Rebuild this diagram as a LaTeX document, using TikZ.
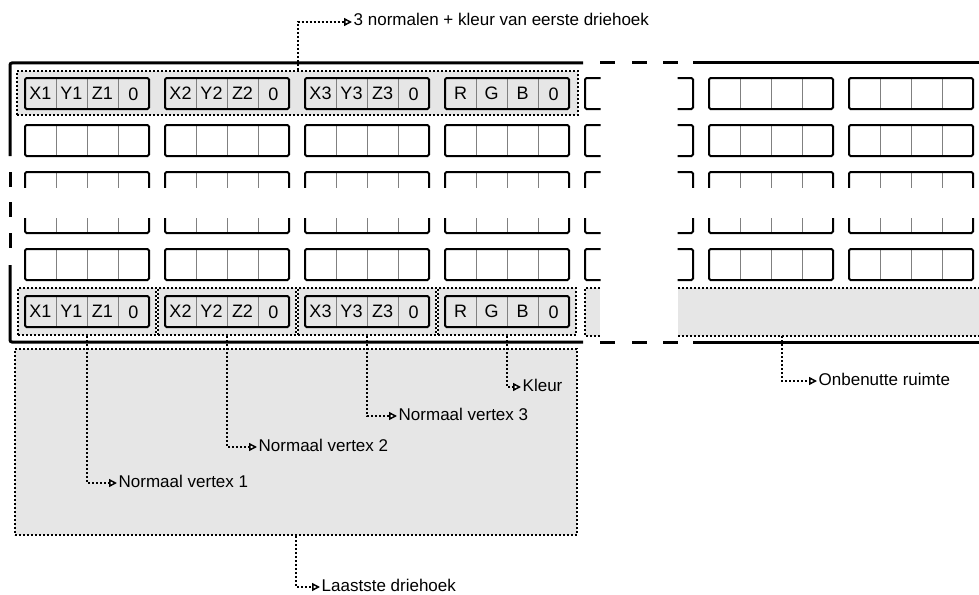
\documentclass[tikz,border=0pt]{standalone}
\usepackage{fontspec}
\setmainfont{Liberation Sans}
\usetikzlibrary{arrows.meta}
\definecolor{lightg}{RGB}{230,230,230}
\definecolor{divg}{RGB}{128,128,128}
\newcommand\myblock[2]{%
  \draw[divider] ({#1+31},#2) -- ++(0,31) ({#1+62},#2) -- ++(0,31) ({#1+93},#2) -- ++(0,31);
  \draw[blockline] (#1,#2) rectangle ++(124,31);}
\newcommand\myhlblock[7]{%
  \fill[lightg] (#1,#2) rectangle ++(124,31);
  \myblock{#1}{#2}%
  \node[cell] (#3a) at ({#1+15.5},{#2+15.5}) {#4};
  \node[cell] (#3b) at ({#1+46.5},{#2+15.5}) {#5};
  \node[cell] (#3c) at ({#1+77.5},{#2+15.5}) {#6};
  \node[cell] (#3d) at ({#1+108.5},{#2+16.5}) {#7};}
\begin{document}
\begin{tikzpicture}[x=1pt,y=-1pt,
  blockline/.style={line width=2pt, rounded corners=1.5pt},
  divider/.style={draw=divg, line width=1pt},
  dotline/.style={line width=2pt, dash pattern=on 2pt off 2pt},
  hlbox/.style={dotline, draw, fill=lightg, inner sep=0pt},
  conn/.style={dotline, -{Triangle[fill=white,length=8pt,width=8pt,line width=1.5pt]}},
  lbl/.style={anchor=west, inner xsep=1.5pt, inner ysep=0pt, text height=8pt, text depth=0pt, font=\fontsize{17pt}{20pt}\selectfont},
  cell/.style={inner sep=0pt, font=\fontsize{18pt}{21pt}\selectfont},
  border/.style={line width=3pt}
]
\useasboundingbox (0,0) rectangle (979,594);

% highlighted boxes (first triangle row, last triangle row)
\node[hlbox, minimum width=561pt, minimum height=44pt] (first) at (297.5,93) {};
\node[hlbox, minimum width=138pt, minimum height=47pt] (lb1) at (87,311.5) {};
\node[hlbox, minimum width=138pt, minimum height=47pt] (lb2) at (227,311.5) {};
\node[hlbox, minimum width=138pt, minimum height=47pt] (lb3) at (367,311.5) {};
\node[hlbox, minimum width=138pt, minimum height=47pt] (lb4) at (507,311.5) {};

% unused space
\node[inner sep=0pt, minimum width=394pt, minimum height=48pt] (unused) at (782,312) {};
\fill[lightg] (585,288) rectangle (600,336);
\fill[lightg] (678,288) rectangle (979,336);
\draw[dotline] (600,288) -- (585,288) -- (585,336) -- (600,336);
\draw[dotline] (678,288) -- (979,288) (678,336) -- (979,336);

% last triangle block
\node[hlbox, minimum width=562pt, minimum height=186pt] (last) at (296,442) {};

% highlighted blocks
\myhlblock{25}{78}{fa}{X1}{Y1}{Z1}{0}
\myhlblock{165}{78}{fb}{X2}{Y2}{Z2}{0}
\myhlblock{305}{78}{fc}{X3}{Y3}{Z3}{0}
\myhlblock{445}{78}{fd}{R}{G}{B}{0}
\myhlblock{25}{296}{la}{X1}{Y1}{Z1}{0}
\myhlblock{165}{296}{lb}{X2}{Y2}{Z2}{0}
\myhlblock{305}{296}{lc}{X3}{Y3}{Z3}{0}
\myhlblock{445}{296}{ld}{R}{G}{B}{0}

% plain blocks
\foreach \y in {125,249}{\foreach \x in {25,165,305,445,709,849}{\myblock{\x}{\y}}}
\foreach \x in {709,849}{\myblock{\x}{78}}
\begin{scope}
  \clip (570,0) rectangle (600.5,594);
  \foreach \y in {78,125,249}{\myblock{585}{\y}}
\end{scope}
\begin{scope}
  \clip (677.5,0) rectangle (700,594);
  \foreach \y in {78,125,249}{\myblock{569}{\y}}
\end{scope}
% broken rows
\begin{scope}
  \clip (0,160) rectangle (979,187);
  \foreach \x in {25,165,305,445,709,849}{\myblock{\x}{172}}
  \begin{scope}\clip (570,0) rectangle (600.5,594); \myblock{585}{172}\end{scope}
  \begin{scope}\clip (677.5,0) rectangle (700,594); \myblock{569}{172}\end{scope}
\end{scope}
\begin{scope}
  \clip (0,218) rectangle (979,240);
  \foreach \x in {25,165,305,445,709,849}{\myblock{\x}{202}}
  \begin{scope}\clip (570,0) rectangle (600.5,594); \myblock{585}{202}\end{scope}
  \begin{scope}\clip (677.5,0) rectangle (700,594); \myblock{569}{202}\end{scope}
\end{scope}

% outer border
\draw[border, rounded corners=2pt] (583,63) -- (10,63) -- (10,156);
\draw[border] (10,172) -- (10,187) (10,202) -- (10,217) (10,233) -- (10,248);
\draw[border, rounded corners=2pt] (10,265) -- (10,342) -- (583,342);
\draw[border] (600,63) -- (615,63) (632,63) -- (647,63) (663,63) -- (678,63) (693,63) -- (979,63);
\draw[border] (600,342) -- (615,342) (632,342) -- (647,342) (663,342) -- (678,342) (693,342) -- (979,342);

% labels
\node[lbl] (ltop) at (352,22) {3 normalen + kleur van eerste driehoek};
\node[lbl] (lkleur) at (521,387) {Kleur};
\node[lbl] (lv3) at (397,416) {Normaal vertex 3};
\node[lbl] (lv2) at (257,447) {Normaal vertex 2};
\node[lbl] (lv1) at (117,483) {Normaal vertex 1};
\node[lbl] (llast) at (320,587) {Laastste driehoek};
\node[lbl] (lunused) at (817,381) {Onbenutte ruimte};

% connectors
\draw[conn] (first.north) |- (ltop.west);
\draw[conn] (lb4.south) |- (lkleur.west);
\draw[conn] (lb3.south) |- (lv3.west);
\draw[conn] (lb2.south) |- (lv2.west);
\draw[conn] (lb1.south) |- (lv1.west);
\draw[conn] (last.south) |- (llast.west);
\draw[conn] (unused.south) |- (lunused.west);
\end{tikzpicture}
\end{document}
